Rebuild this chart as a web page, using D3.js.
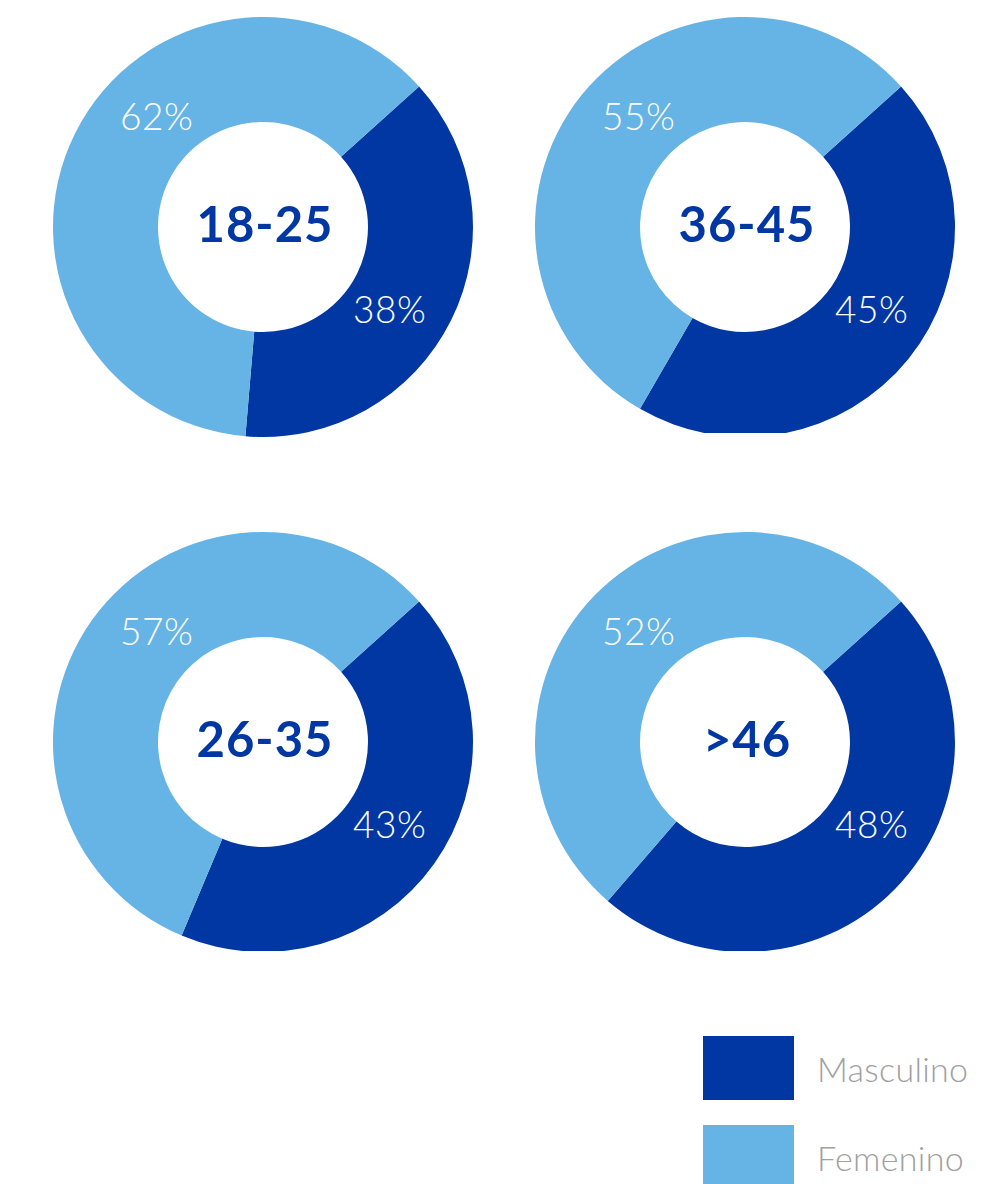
<!DOCTYPE html>
<html lang="es">
<head>
<meta charset="utf-8">
<title>Distribución por sexo y edad</title>
<script src="https://cdn.jsdelivr.net/npm/d3@7"></script>
<style>
  html, body { margin: 0; padding: 0; background: #ffffff; }
  svg { display: block; }
</style>
</head>
<body>
<svg id="chart" width="984" height="1184"></svg>
<script>
// Age groups, in reading order (left-to-right, top-to-bottom)
const ageGroups = ["18-25", "36-45", "26-35", ">46"];
// Share of each sex per age group (%)
const masculino = [38, 45, 43, 48];
const femenino  = [62, 55, 57, 52];
// Legend entries
const seriesNames = ["Masculino", "Femenino"];

const colors = { Masculino: "#0137a3", Femenino: "#66b3e5" };

const svg = d3.select("#chart");

// Grid placement of the four donuts
const colX = d3.scaleOrdinal().domain([0, 1]).range([263, 745]);
const rowY = d3.scaleOrdinal().domain([0, 1]).range([227, 742]);
// Lower edge of each donut's frame (the rings are trimmed flat there)
const frameBottom = [440, 433, 951, 951];

const outerR = 210, innerR = 105;
const startDeg = 48;
const toRad = d => d * Math.PI / 180;

const pie = d3.pie()
  .sort(null)
  .value(d => d.value)
  .startAngle(toRad(startDeg))
  .endAngle(toRad(startDeg + 360));

const arc = d3.arc().innerRadius(innerR).outerRadius(outerR);

// Fixed polar spots for the percentage labels
const labelSpot = {
  Masculino: { angle: toRad(123), r: 151 },
  Femenino:  { angle: toRad(316), r: 153 }
};

const defs = svg.append("defs");

ageGroups.forEach((group, i) => {
  const cx = colX(i % 2), cy = rowY(Math.floor(i / 2));
  const slices = pie([
    { key: "Masculino", value: masculino[i] },
    { key: "Femenino",  value: femenino[i] }
  ]);

  defs.append("clipPath")
    .attr("id", "frame-" + i)
    .append("rect")
    .attr("x", -outerR - 5)
    .attr("y", -outerR - 5)
    .attr("width", 2 * outerR + 10)
    .attr("height", frameBottom[i] - cy + outerR + 5);

  const g = svg.append("g").attr("transform", `translate(${cx},${cy})`);

  g.append("g")
    .attr("clip-path", `url(#frame-${i})`)
    .selectAll("path.slice")
    .data(slices)
    .join("path")
    .attr("class", "slice")
    .attr("d", arc)
    .attr("fill", d => colors[d.data.key]);

  g.selectAll("text.pct")
    .data(slices)
    .join("text")
    .attr("class", "pct")
    .attr("x", d => labelSpot[d.data.key].r * Math.sin(labelSpot[d.data.key].angle))
    .attr("y", d => -labelSpot[d.data.key].r * Math.cos(labelSpot[d.data.key].angle))
    .attr("dy", "0.36em")
    .attr("text-anchor", "middle")
    .attr("font-family", "Lato, 'Open Sans', sans-serif")
    .attr("font-weight", 300)
    .attr("font-size", 37)
    .attr("letter-spacing", 0.5)
    .attr("fill", "#ffffff")
    .text(d => d.data.value + "%");

  g.append("text")
    .attr("x", 2)
    .attr("y", -3)
    .attr("dy", "0.36em")
    .attr("text-anchor", "middle")
    .attr("font-family", "Lato, 'Open Sans', sans-serif")
    .attr("font-weight", 700)
    .attr("font-size", 49)
    .attr("letter-spacing", 1)
    .attr("fill", "#0137a3")
    .text(group);
});

// Legend
const legendY = d3.scalePoint().domain(seriesNames).range([1036, 1125]);
const legend = svg.append("g");
legend.selectAll("rect")
  .data(seriesNames)
  .join("rect")
  .attr("x", 703)
  .attr("y", d => legendY(d))
  .attr("width", 91)
  .attr("height", 64)
  .attr("fill", d => colors[d]);

legend.selectAll("text")
  .data(seriesNames)
  .join("text")
  .attr("x", 817)
  .attr("y", d => legendY(d) + 46)
  .attr("font-family", "Lato, 'Open Sans', sans-serif")
  .attr("font-weight", 300)
  .attr("font-size", 34)
  .attr("letter-spacing", 0.3)
  .attr("fill", "#a0a0a0")
  .text(d => d);
</script>
</body>
</html>
